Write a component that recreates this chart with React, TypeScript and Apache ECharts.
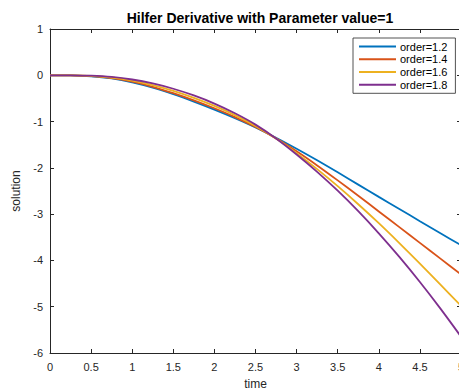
import React, { useEffect, useRef } from "react";
import * as echarts from "echarts";

const times = [0, 0.25, 0.5, 0.75, 1, 1.25, 1.5, 1.75, 2, 2.25, 2.5, 2.75, 3, 3.25, 3.5, 3.75, 4, 4.25, 4.5, 4.75, 5];
const order12 = [0, -0.004, -0.022, -0.069, -0.152, -0.267, -0.409, -0.569, -0.742, -0.927, -1.127, -1.349, -1.587, -1.837, -2.097, -2.362, -2.627, -2.889, -3.152, -3.412, -3.672];
const order14 = [0, -0.003, -0.018, -0.061, -0.138, -0.248, -0.386, -0.541, -0.713, -0.903, -1.118, -1.363, -1.643, -1.948, -2.271, -2.603, -2.941, -3.281, -3.621, -3.961, -4.301];
const order16 = [0, -0.002, -0.013, -0.048, -0.113, -0.211, -0.336, -0.486, -0.661, -0.861, -1.093, -1.366, -1.683, -2.028, -2.396, -2.786, -3.196, -3.626, -4.068, -4.521, -4.981];
const order18 = [0, -0.001, -0.009, -0.036, -0.091, -0.176, -0.291, -0.436, -0.611, -0.821, -1.066, -1.366, -1.711, -2.086, -2.494, -2.936, -3.414, -3.924, -4.466, -5.041, -5.646];
const seriesNames = ["order=1.2", "order=1.4", "order=1.6", "order=1.8"];
const seriesColors = ["#0072BD", "#D95319", "#EDB120", "#7E2F8E"];
const xTicks = { min: 0, max: 5, interval: 0.5 };
const yTicks = { min: -6, max: 1, interval: 1 };

const FONT = "'Liberation Sans', Arial, Helvetica, sans-serif";
const AXIS = "#262626";

export default function App() {
  const ref = useRef<HTMLDivElement>(null);
  useEffect(() => {
    if (!ref.current) return;
    const chart = echarts.init(ref.current, undefined, { renderer: "svg" });
    const all = [order12, order14, order16, order18];
    const baseX = {
      type: "value" as const,
      min: xTicks.min,
      max: xTicks.max,
      interval: xTicks.interval,
      splitLine: { show: false },
      axisLine: { show: true, onZero: false, lineStyle: { color: AXIS, width: 1 } },
      axisTick: { show: true, inside: true, length: 4, lineStyle: { color: AXIS } },
    };
    const baseY = {
      type: "value" as const,
      min: yTicks.min,
      max: yTicks.max,
      interval: yTicks.interval,
      splitLine: { show: false },
      axisLine: { show: true, onZero: false, lineStyle: { color: AXIS, width: 1 } },
      axisTick: { show: true, inside: true, length: 4, lineStyle: { color: AXIS } },
    };
    chart.setOption({
      animation: false,
      backgroundColor: "#ffffff",
      textStyle: { fontFamily: FONT },
      title: {
        text: "Hilfer Derivative with Parameter value=1",
        left: 255,
        top: 6,
        textAlign: "center",
        textStyle: { fontFamily: FONT, fontSize: 14, fontWeight: "bold", color: "#000" },
      },
      grid: {
        left: 50,
        top: 29,
        width: 411,
        height: 324,
        containLabel: false,
        outerBoundsMode: "none",
      },
      legend: {
        orient: "vertical",
        left: 353,
        top: 38,
        data: seriesNames,
        itemWidth: 37,
        itemHeight: 14,
        itemGap: 1.5,
        padding: [3, 8, 3, 5],
        backgroundColor: "#ffffff",
        borderColor: AXIS,
        borderWidth: 0.8,
        borderRadius: 0,
        itemStyle: { opacity: 0 },
        textStyle: { fontFamily: FONT, fontSize: 11, color: "#000", padding: [0, 0, 0, -1] },
      },
      xAxis: [
        {
          ...baseX,
          position: "bottom",
          name: "time",
          nameLocation: "middle",
          nameGap: 25,
          nameTextStyle: { fontFamily: FONT, fontSize: 12, color: AXIS },
          axisLabel: { fontFamily: FONT, fontSize: 11, color: AXIS, margin: 8 },
        },
        { ...baseX, position: "top", axisLabel: { show: false } },
      ],
      yAxis: [
        {
          ...baseY,
          position: "left",
          name: "solution",
          nameLocation: "middle",
          nameGap: 22,
          nameTextStyle: { fontFamily: FONT, fontSize: 12, color: AXIS },
          axisLabel: { fontFamily: FONT, fontSize: 11, color: AXIS, margin: 7 },
        },
        { ...baseY, position: "right", axisLabel: { show: false } },
      ],
      series: all.map((vals, i) => ({
        name: seriesNames[i],
        type: "line",
        xAxisIndex: 0,
        yAxisIndex: 0,
        data: times.map((t, j) => [t, vals[j]]),
        smooth: 0.3,
        symbol: "none",
        showSymbol: false,
        color: seriesColors[i],
        lineStyle: { color: seriesColors[i], width: 1.8 },
        z: 2 + i,
      })),
    });
    return () => chart.dispose();
  }, []);
  return (
    <div
      ref={ref}
      style={{ position: "fixed", left: 0, top: 0, width: 459, height: 390, background: "#fff" }}
    />
  );
}
